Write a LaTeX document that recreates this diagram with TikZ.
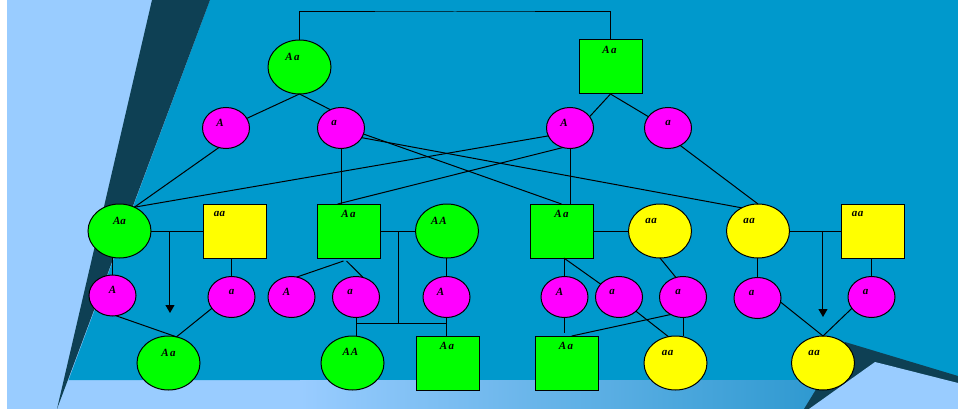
\documentclass[tikz,border=0pt]{standalone}
\usepackage{fontspec}
\setmainfont{Liberation Serif}
\usetikzlibrary{shapes.geometric,arrows.meta,calc}
\definecolor{bgblue}{HTML}{0099CC}
\definecolor{bglight}{HTML}{99CCFF}
\definecolor{bgdark}{RGB}{14,64,84}
\definecolor{bandR}{RGB}{40,150,205}
\definecolor{gfill}{HTML}{00FF00}
\definecolor{yfill}{HTML}{FFFF00}
\definecolor{mfill}{HTML}{FF00FF}
\newcommand{\sAa}{A\kern1.5pt a}
\newcommand{\saa}{a\kern0.5pt a}
\tikzset{
  shp/.style={draw=black, line width=1pt, inner sep=0pt, outer sep=0pt},
  gcirc/.style={shp, ellipse, fill=gfill, minimum width=63pt, minimum height=54pt},
  ycirc/.style={shp, ellipse, fill=yfill, minimum width=63pt, minimum height=54pt},
  gsq/.style={shp, rectangle, fill=gfill, minimum width=63pt, minimum height=54pt},
  ysq/.style={shp, rectangle, fill=yfill, minimum width=63pt, minimum height=54pt},
  gam/.style={shp, ellipse, fill=mfill, minimum width=47pt, minimum height=41pt},
  lbl/.style={font=\fontsize{11}{13}\selectfont\bfseries\itshape, inner sep=0pt, text=black},
  tx/.style n args={3}{label={[lbl,xshift=#1pt,yshift=#2pt]center:#3}},
  conn/.style={draw=black, line width=1pt},
  arr/.style={conn, -{Triangle[width=9pt,length=8pt]}}
}
\begin{document}
\begin{tikzpicture}[x=1pt,y=-1pt]
\useasboundingbox (0,0) rectangle (958,409);
% background
\fill[white] (0,0) rectangle (958,409);
\fill[bglight] (7,0) rectangle (958,409);
\fill[bgblue] (210,0) -- (958,0) -- (958,380) -- (68.6,380) -- cycle;
\shade[left color=bglight, right color=bandR] (300,380) rectangle (850,409);
\fill[bgdark] (152,0) -- (210,0) -- (57,409) -- cycle;
\fill[bgdark] (804,409) -- (845,342) -- (958,376) -- (958,409) -- cycle;
\fill[bglight] (809,409) -- (875,362) -- (958,383) -- (958,409) -- cycle;

% generation I
\node[gcirc,tx={-7}{10}{\sAa}] (P1) at (299.5,67) {};
\node[gsq,tx={-1}{17}{\sAa}] (P2) at (610.5,67) {};
\node[gam,tx={-6}{5}{A}] (G1) at (226,128) {};
\node[gam,tx={-7}{5}{a}] (G2) at (341,128) {};
\node[gam,tx={-6}{5}{A}] (G3) at (570,128) {};
\node[gam,tx={0}{5}{a}] (G4) at (668,128) {};
% generation II
\node[gcirc,tx={0}{10}{Aa}] (C1) at (119.5,231) {};
\node[ysq,tx={-15}{17}{\saa}] (C2) at (234.5,231) {};
\node[gsq,tx={0}{17}{\sAa}] (C3) at (348.5,231) {};
\node[gcirc,tx={-8}{10}{A\kern1pt A}] (C4) at (447,231) {};
\node[gsq,tx={0}{17}{\sAa}] (C5) at (561.5,231) {};
\node[ycirc,tx={-9}{10}{\saa}] (C6) at (660,231) {};
\node[ycirc,tx={-9}{10}{\saa}] (C7) at (758,231) {};
\node[ysq,tx={-15}{17}{\saa}] (C8) at (872.5,231) {};
% gametes II
\node[gam,tx={0}{6}{A}] (H1) at (112.5,295.5) {};
\node[gam,tx={0}{5}{a}] (H2) at (231.5,297) {};
\node[gam,tx={-5}{5}{A}] (H3) at (291.5,297) {};
\node[gam,tx={-6}{5}{a}] (H4) at (356,297) {};
\node[gam,tx={-6}{5}{A}] (H5) at (446.5,297) {};
\node[gam,tx={-5}{5}{A}] (H6) at (564.5,297) {};
\node[gam,tx={-7}{5}{a}] (H7) at (619,297) {};
\node[gam,tx={-5}{5}{a}] (H8) at (683,297) {};
\node[gam,tx={-6}{5}{a}] (H9) at (757.5,298) {};
\node[gam,tx={-6}{5}{a}] (H10) at (871.5,297) {};
% generation III
\node[gcirc,tx={0}{10}{\sAa}] (K1) at (168.5,363) {};
\node[gcirc,tx={-2}{11}{A\kern1pt A}] (K2) at (352.5,363) {};
\node[gsq,tx={-1}{17}{\sAa}] (K3) at (448,363) {};
\node[gsq,tx={-1}{17}{\sAa}] (K4) at (567,363) {};
\node[ycirc,tx={-8}{10}{\saa}] (K5) at (675.5,363) {};
\node[ycirc,tx={-9}{10}{\saa}] (K6) at (823,363) {};

% coordinates
\coordinate (topmid) at (455,12);
\coordinate (mL) at ($(C1.east)!0.365!(C2.west)$);
\coordinate (tipL) at ($(mL)+(0,82)$);
\coordinate (mM) at ($(C3.east)!0.53!(C4.west)$);
\coordinate (jM) at ($(mM)+(0,92)$);
\coordinate (mR) at ($(C7.east)!0.65!(C8.west)$);
\coordinate (tipR) at ($(mR)+(0,86)$);

% connectors generation I
\draw[conn] (P1.north) |- (topmid) -| (P2.north);
\draw[conn] (P1.south) -- (G1);
\draw[conn] (P1.south) -- (G2.120);
\draw[conn] (P2.south) -- (G3.30);
\draw[conn] (P2.south) -- (G4.150);
\draw[conn] (G1.250) -- (C1.58);
\draw[conn] (G3.200) -- (C1.58);
\draw[conn] (G2.south) -- (G2.south |- C3.north);
\draw[conn] (G3.250) -- (C3.112);
\draw[conn] (G2.-15) -- (C5.north);
\draw[conn] (G2.-25) -- (C7.125);
\draw[conn] (G3.south) -- (G3.south |- C5.north);
\draw[conn] (G4.-55) -- (C7.north);
% left family
\draw[conn] (C1.east) -- (C2.west);
\draw[arr] (mL) -- (tipL);
\draw[conn] (H1.north) -- (H1.north |- C1.south);
\draw[conn] (H2.north) -- (H2.north |- C2.south);
\draw[conn] (H1.-80) -- (K1.73);
\draw[conn] (H2.210) -- (K1.73);
% middle-left family
\draw[conn] (C3.east) -- (C4.west);
\draw[conn] (mM) -- (jM);
\draw[conn] (H4.south |- jM) -- (H5.south |- jM);
\draw[conn] (H4.south) -- (H4.south |- K2.north);
\draw[conn] (H5.south) -- (H5.south |- K3.north);
\draw[conn] ($(C3.south)+(-5,3)$) -- (H3.75);
\draw[conn] ($(C3.south)+(-2,3)$) -- (H4.70);
\draw[conn] (H5.north) -- (H5.north |- C4.south);
% middle-right family
\draw[conn] (C5.east) -- (C6.west);
\draw[conn] (H6.north) -- (H6.north |- C5.south);
\draw[conn] (C5.-85) -- (H7.145);
\draw[conn] (C6.south) -- (H8.110);
\draw[conn] (H6.south) -- ($(H6.south |- K4.north)+(0,-3)$);
\draw[conn] (H8.south) -- (H8.south |- K5.north);
\draw[conn] (H8.235) -- (K4.80);
\draw[conn] (H7.-40) -- (K5.105);
% right family
\draw[conn] (C7.east) -- (C8.west);
\draw[arr] (mR) -- (tipR);
\draw[conn] (H9.north) -- (H9.north |- C7.south);
\draw[conn] (H10.north) -- (H10.north |- C8.south);
\draw[conn] (H9.-10) -- (K6.north);
\draw[conn] (H10.210) -- (K6.north);
\end{tikzpicture}
\end{document}
